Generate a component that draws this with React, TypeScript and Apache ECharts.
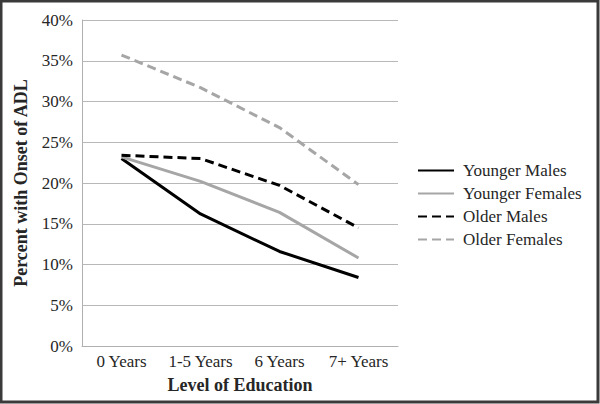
import React, { useEffect, useRef } from "react";
import * as echarts from "echarts";

const categories = ["0 Years", "1-5 Years", "6 Years", "7+ Years"];
const youngerMales = [23.0, 16.2, 11.6, 8.4];
const youngerFemales = [23.2, 20.2, 16.4, 10.8];
const olderMales = [23.4, 23.0, 19.7, 14.5];
const olderFemales = [35.7, 31.7, 26.8, 19.8];
const seriesNames = ["Younger Males", "Younger Females", "Older Males", "Older Females"];

const FONT = "'Liberation Serif', 'DejaVu Serif', serif";

export default function App() {
  const ref = useRef<HTMLDivElement>(null);
  useEffect(() => {
    document.body.style.margin = "0";
    const chart = echarts.init(ref.current!, null, { renderer: "svg" });
    const mk = (name: string, data: number[], color: string, dashed: boolean) => ({
      name,
      type: "line",
      data,
      symbol: "none",
      lineStyle: { color, width: 3, type: dashed ? [9, 5] : "solid" },
      itemStyle: { color },
    });
    chart.setOption({
      animation: false,
      backgroundColor: "#fff",
      textStyle: { fontFamily: FONT },
      grid: { left: 82, right: 202, top: 20, bottom: 58, containLabel: false },
      graphic: [
        {
          type: "rect",
          shape: { x: 1, y: 1, width: 597, height: 401 },
          style: { fill: "none", stroke: "#3a3a3a", lineWidth: 3 },
          silent: true,
        },
      ],
      legend: {
        orient: "vertical",
        left: 417,
        top: 162,
        padding: 0,
        itemWidth: 36,
        itemHeight: 10,
        itemGap: 6,
        itemStyle: { color: "rgba(0,0,0,0)", borderColor: "rgba(0,0,0,0)", borderWidth: 0 },
        textStyle: { fontFamily: FONT, fontSize: 17, color: "#262626", padding: [0, 0, 0, 4] },
        data: seriesNames,
      },
      xAxis: {
        type: "category",
        data: categories,
        boundaryGap: true,
        axisLine: { show: true, lineStyle: { color: "#b0b0b0", width: 1 } },
        axisTick: { show: false },
        axisLabel: { fontFamily: FONT, fontSize: 17, color: "#262626", margin: 7, interval: 0 },
        name: "Level of Education",
        nameLocation: "middle",
        nameGap: 30,
        nameTextStyle: { fontFamily: FONT, fontSize: 18, fontWeight: "bold", color: "#262626" },
      },
      yAxis: {
        type: "value",
        min: 0,
        max: 40,
        interval: 5,
        axisLine: { show: true, lineStyle: { color: "#b0b0b0", width: 1 } },
        axisTick: { show: false },
        splitLine: { show: true, lineStyle: { color: "#b8b8b8", width: 1 } },
        axisLabel: { fontFamily: FONT, fontSize: 17, color: "#262626", margin: 9, formatter: "{value}%" },
        name: "Percent with Onset of ADL",
        nameLocation: "middle",
        nameGap: 52,
        nameTextStyle: { fontFamily: FONT, fontSize: 18, fontWeight: "bold", color: "#262626" },
      },
      series: [
        mk(seriesNames[0], youngerMales, "#000000", false),
        mk(seriesNames[1], youngerFemales, "#a6a6a6", false),
        mk(seriesNames[2], olderMales, "#000000", true),
        mk(seriesNames[3], olderFemales, "#a6a6a6", true),
      ],
    });
    return () => chart.dispose();
  }, []);
  return <div ref={ref} style={{ width: 600, height: 404 }} />;
}
